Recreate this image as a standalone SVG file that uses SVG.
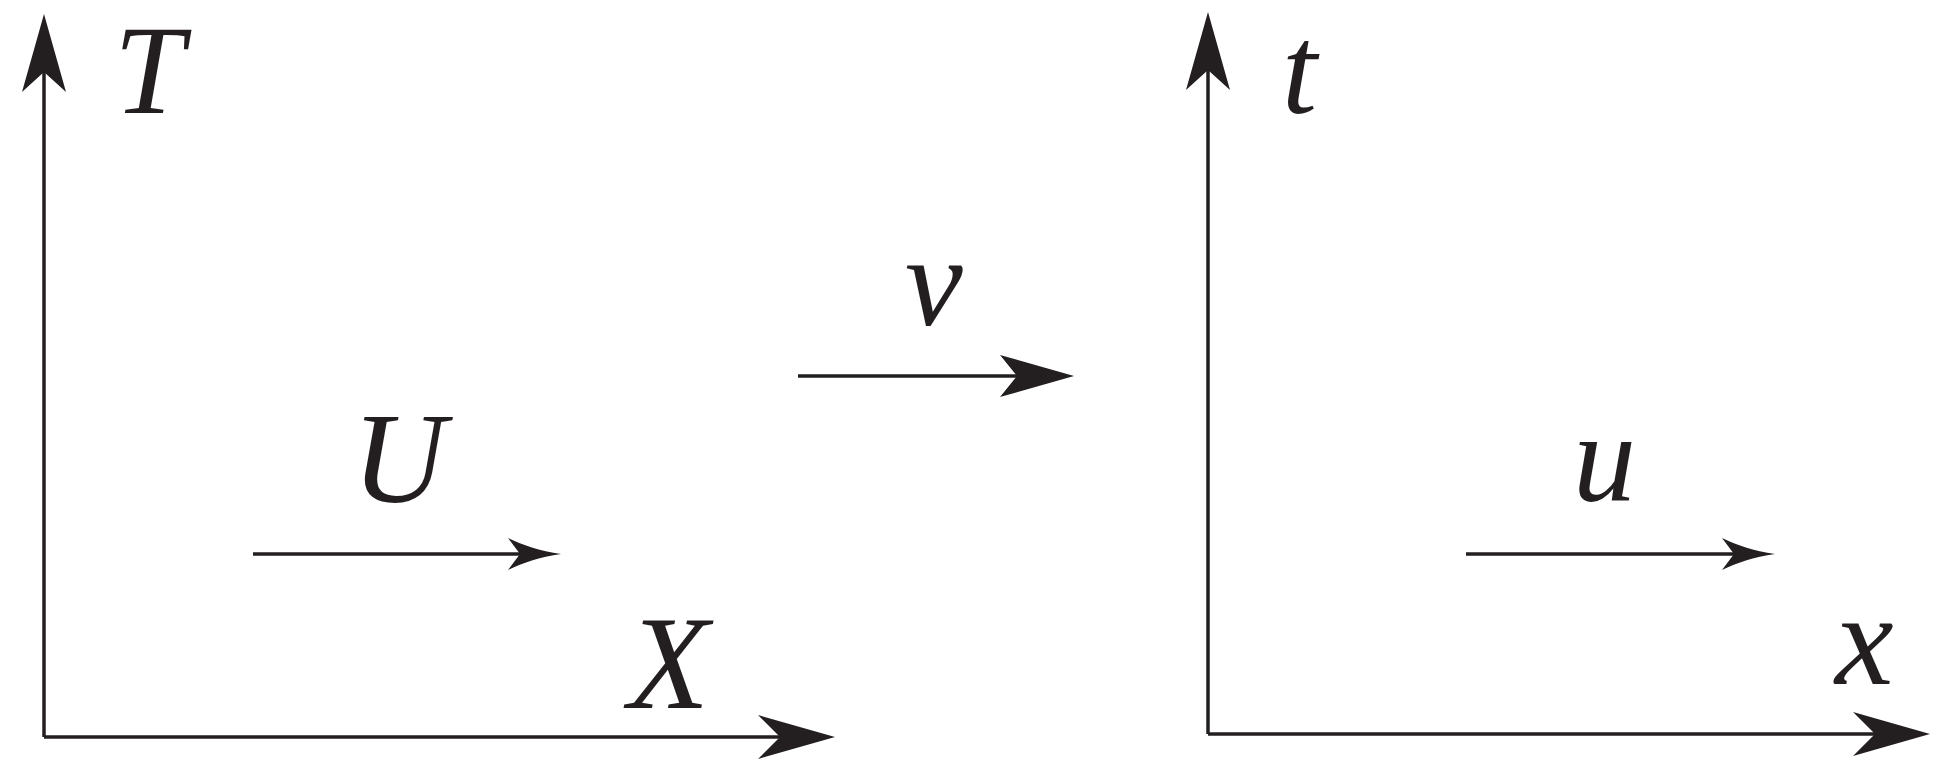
<svg xmlns="http://www.w3.org/2000/svg" width="1941" height="777" viewBox="0 0 1941 777">
<style>
.ax{stroke:#231f20;stroke-width:3.5;fill:none}
.hd{fill:#231f20;stroke:none}
.lb{font-family:"Liberation Serif","Times New Roman",serif;font-style:italic;fill:#231f20}
</style>
<rect width="1941" height="777" fill="#ffffff"/>
<g id="connectors">
<line class="ax" x1="44" y1="70" x2="44" y2="737"/>
<path class="hd" d="M44,14 L66,92 L44,72 L22,92 Z"/>
<line class="ax" x1="44" y1="737" x2="785" y2="737"/>
<path class="hd" d="M835,737 L758,759 L780,737 L758,715 Z"/>
<line class="ax" x1="253" y1="554" x2="525" y2="554"/>
<path class="hd" d="M561,554 C540,557 522,563 508,570 L520,554 L508,538 C522,545 540,551 561,554 Z"/>
<line class="ax" x1="798" y1="376" x2="1020" y2="376"/>
<path class="hd" d="M1074,376 L1000,397 L1017,376 L1000,355 Z"/>
<line class="ax" x1="1208" y1="70" x2="1208" y2="734"/>
<path class="hd" d="M1208,12 L1230,90 L1208,70 L1186,90 Z"/>
<line class="ax" x1="1208" y1="734" x2="1878" y2="734"/>
<path class="hd" d="M1930,734 L1853,756 L1875,734 L1853,712 Z"/>
<line class="ax" x1="1466" y1="554" x2="1736" y2="554"/>
<path class="hd" d="M1775,554 C1754,557 1736,563 1722,570 L1734,554 L1722,538 C1736,545 1754,551 1775,554 Z"/>
</g>
<g id="label-T"><text class="lb" x="114" y="113" font-size="126">T</text></g>
<g id="label-U"><text class="lb" x="352" y="502" font-size="130">U</text></g>
<g id="label-X"><text class="lb" x="628" y="708" font-size="133">X</text></g>
<g id="label-v"><text class="lb" x="905" y="325" font-size="130">v</text></g>
<g id="label-t"><text class="lb" x="1282" y="113" font-size="126">t</text></g>
<g id="label-u"><text class="lb" x="1573" y="501" font-size="126">u</text></g>
<g id="label-x"><text class="lb" x="1835" y="684" font-size="132">x</text></g>
</svg>
